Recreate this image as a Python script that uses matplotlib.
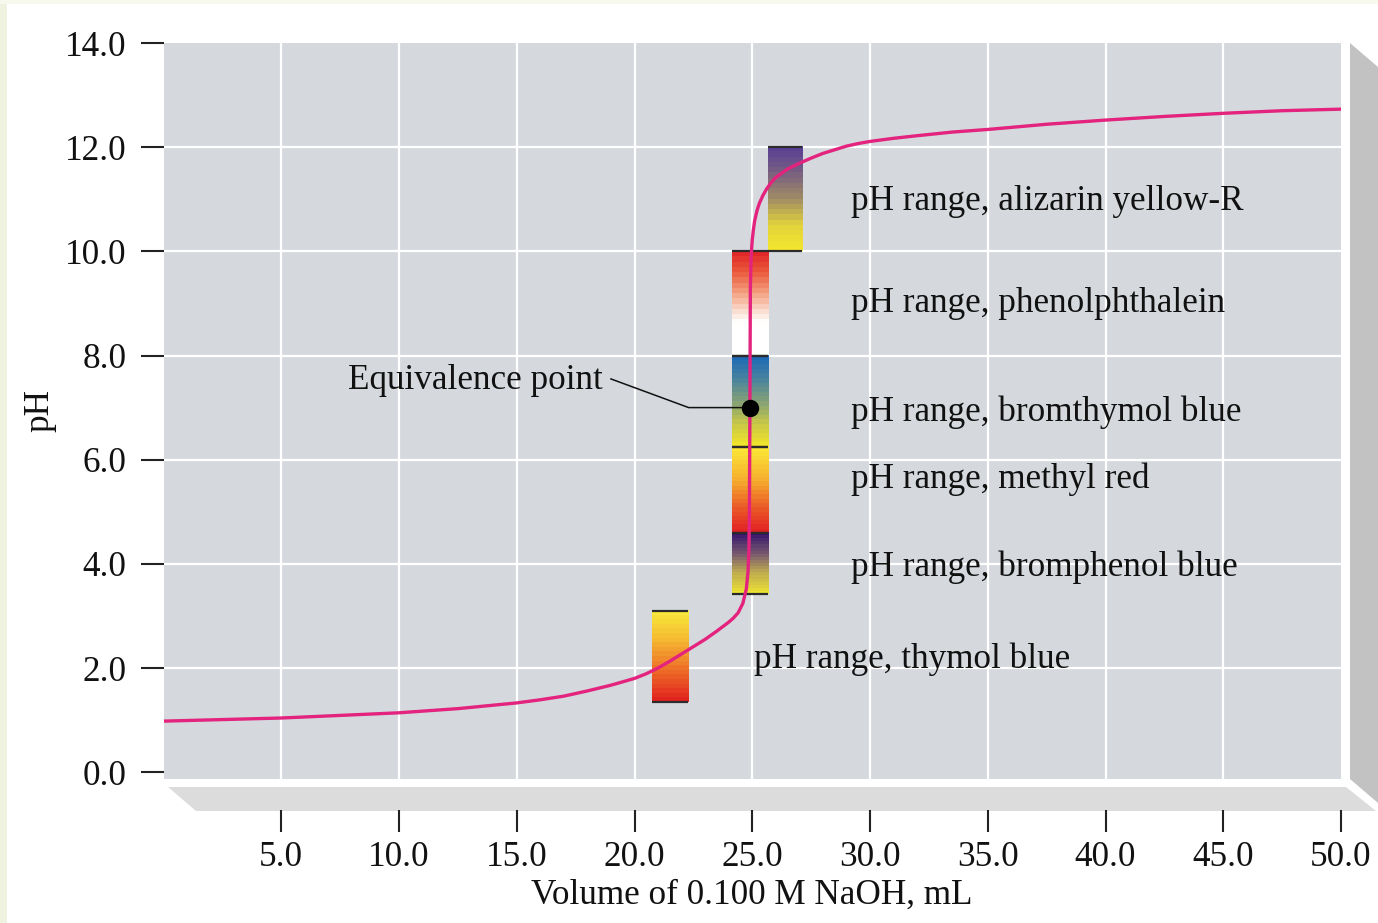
import numpy as np
import matplotlib
matplotlib.use("Agg")
import matplotlib.pyplot as plt
from matplotlib.patches import Polygon, Rectangle

# ---------------- data ----------------
volume_ml = [0, 2.5, 5, 7.5, 10, 12.5, 15, 16, 17, 18, 19, 20, 20.5, 21, 21.5, 22,
             22.5, 23, 23.5, 24, 24.2, 24.4, 24.6, 24.75, 24.82, 24.86, 24.88,
             24.9, 24.92, 24.95, 25.0, 25.05, 25.1, 25.2, 25.3, 25.45, 25.6, 25.8,
             26.0, 26.5, 27.0, 27.5, 28.0, 28.5, 29.0, 29.5, 30.0, 31.0, 32.0,
             33.5, 35.0, 37.5, 40.0, 42.5, 45.0, 47.5, 50.0]
ph_values = [0.98, 1.01, 1.04, 1.09, 1.14, 1.22, 1.33, 1.39, 1.46, 1.56, 1.67,
             1.80, 1.89, 2.00, 2.13, 2.27, 2.41, 2.55, 2.71, 2.88, 2.96, 3.06,
             3.24, 3.52, 3.85, 4.30, 5.00, 7.00, 9.30, 9.90, 10.22, 10.42, 10.58,
             10.78, 10.92, 11.07, 11.19, 11.32, 11.42, 11.58, 11.69, 11.79, 11.88,
             11.95, 12.02, 12.07, 12.11, 12.17, 12.22, 12.29, 12.34, 12.44,
             12.52, 12.59, 12.65, 12.70, 12.73]

equiv_volume = 24.9
equiv_ph = 7.0

indicator_names = ["alizarin yellow-R", "phenolphthalein", "bromthymol blue",
                   "methyl red", "bromphenol blue", "thymol blue"]
indicator_ph_low = [10.0, 8.0, 6.25, 4.6, 3.42, 1.35]
indicator_ph_high = [12.0, 10.0, 8.0, 6.25, 4.6, 3.1]
indicator_x_left = [25.68, 24.15, 24.15, 24.15, 24.15, 20.74]
indicator_x_right = [27.13, 25.68, 25.68, 25.68, 25.68, 22.28]
label_x = [29.2, 29.2, 29.2, 29.2, 29.2, 25.08]
label_ph = [10.79, 8.84, 6.74, 5.46, 3.77, 2.0]

# colour stops bottom (low pH) -> top (high pH)
indicator_colors = [
    [(0.0, (245, 232, 45)), (0.25, (225, 210, 60)), (0.5, (160, 140, 100)),
     (0.75, (120, 95, 130)), (1.0, (88, 62, 150))],
    [(0.0, (255, 255, 255)), (0.32, (255, 255, 255)), (0.45, (250, 215, 200)),
     (0.6, (245, 160, 130)), (0.8, (235, 90, 60)), (1.0, (225, 35, 40))],
    [(0.0, (245, 230, 40)), (0.25, (200, 200, 70)), (0.5, (130, 160, 120)),
     (0.75, (70, 130, 160)), (1.0, (25, 105, 185))],
    [(0.0, (225, 30, 35)), (0.3, (235, 90, 40)), (0.6, (245, 170, 45)),
     (1.0, (252, 235, 55))],
    [(0.0, (240, 230, 50)), (0.35, (190, 170, 80)), (0.65, (120, 90, 110)),
     (1.0, (50, 15, 110))],
    [(0.0, (225, 30, 30)), (0.35, (238, 110, 40)), (0.7, (245, 190, 50)),
     (1.0, (248, 235, 60))],
]

x_ticks = [5, 10, 15, 20, 25, 30, 35, 40, 45, 50]
y_ticks = [0, 2, 4, 6, 8, 10, 12, 14]

# ---------------- figure ----------------
W, H = 1378, 923
fig = plt.figure(figsize=(W / 100, H / 100), dpi=100)
FONT = "Liberation Serif"
FS = 25.3

# decoration layer in pixel coordinates
bg = fig.add_axes([0, 0, 1, 1], zorder=0)
bg.set_xlim(0, W)
bg.set_ylim(H, 0)
bg.axis("off")
bg.add_patch(Rectangle((0, 0), 7, H, color="#eef2df", lw=0))
bg.add_patch(Rectangle((0, 0), W, 4, color="#f7f9ee", lw=0))
bg.add_patch(Polygon([(168, 787), (1346, 787), (1376, 811), (196, 811)],
                     closed=True, color="#dcdcdc", lw=0))
bg.add_patch(Polygon([(1350, 43), (1378, 67), (1378, 803), (1350, 779)],
                     closed=True, color="#c2c2c2", lw=0))

left_px, right_px, top_px, bot_px = 163.5, 1341, 43, 779
ax = fig.add_axes([left_px / W, (H - bot_px) / H, (right_px - left_px) / W,
                   (bot_px - top_px) / H], zorder=1)
ax.set_facecolor("#d5d9de")

for s in ax.spines.values():
    s.set_visible(False)
ax.spines["bottom"].set_position(("outward", 22.3))

# grid lines
for xv in x_ticks[:-1]:
    ax.axvline(xv, color="white", lw=1.6, zorder=1)
for yv in y_ticks[1:-1]:
    ax.axhline(yv, color="white", lw=1.6, zorder=1)

# indicator bars
def gradient(stops, n=20):
    pos = np.array([p for p, _ in stops])
    cols = np.array([c for _, c in stops], dtype=float) / 255.0
    t = (np.arange(n) + 0.5) / n
    arr = np.stack([np.interp(t, pos, cols[:, k]) for k in range(3)], axis=-1)
    return arr[:, None, :]

for i in range(len(indicator_names)):
    x0, x1 = indicator_x_left[i], indicator_x_right[i]
    y0, y1 = indicator_ph_low[i], indicator_ph_high[i]
    ax.imshow(gradient(indicator_colors[i]), extent=(x0, x1, y0, y1),
              origin="lower", aspect="auto", interpolation="nearest", zorder=2)
    ax.plot([x0, x1], [y0, y0], color="#2b2b2b", lw=1.6, zorder=3,
            solid_capstyle="butt")
    ax.plot([x0, x1], [y1, y1], color="#2b2b2b", lw=1.6, zorder=3,
            solid_capstyle="butt")
    ax.text(label_x[i], label_ph[i], "pH range, " + indicator_names[i],
            family=FONT, fontsize=FS, color="#111111", ha="left", va="baseline",
            zorder=6)

ax.set_xlim(0, 50)
ax.set_ylim(-0.131, 14)

# titration curve
ax.plot(volume_ml, ph_values, color="#e3237d", lw=2.4, zorder=4,
        solid_joinstyle="round", solid_capstyle="round")

# equivalence point
ax.plot([19.0, 22.3, equiv_volume], [7.55, equiv_ph, equiv_ph], color="#111111",
        lw=1.1, zorder=5)
ax.plot([equiv_volume], [equiv_ph], "o", color="black", ms=11.5, zorder=6)
ax.text(18.66, 7.36, "Equivalence point", family=FONT, fontsize=FS,
        color="#111111", ha="right", va="baseline", zorder=6)

# ticks
ax.set_xticks(x_ticks)
ax.set_xticklabels([f"{v:.1f}" for v in x_ticks])
ax.set_yticks(y_ticks)
ax.set_yticklabels([f"{v:.1f}" for v in y_ticks])
ax.tick_params(axis="x", direction="out", length=16, width=1.5, color="#222222",
               pad=6, labelsize=FS, labelcolor="#111111")
ax.tick_params(axis="y", direction="out", length=16.5, width=1.5, color="#222222",
               pad=10, labelsize=FS, labelcolor="#111111")
for lab in ax.get_xticklabels() + ax.get_yticklabels():
    lab.set_fontfamily(FONT)

fig.text(752 / W, 1 - 904 / H, "Volume of 0.100 M NaOH, mL", family=FONT,
         fontsize=FS, color="#111111", ha="center", va="baseline")
fig.text(40 / W, 1 - 410 / H, "pH", family=FONT, fontsize=FS, color="#111111",
         ha="center", va="center", rotation=90)

fig.savefig("out.png", dpi=100, facecolor="white")
